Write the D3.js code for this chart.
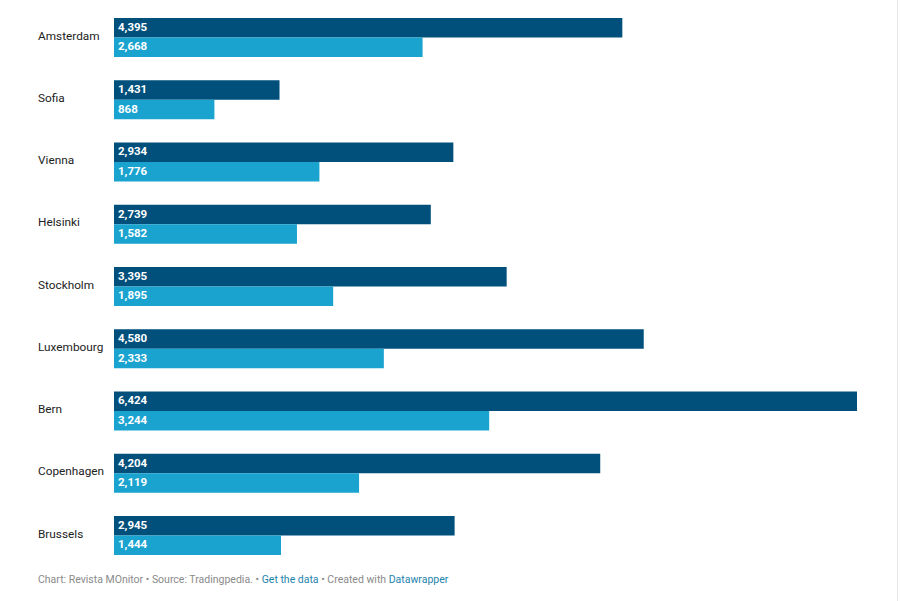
<!DOCTYPE html>
<html>
<head>
<meta charset="utf-8">
<script src="https://cdn.jsdelivr.net/npm/d3@7"></script>
<style>
  body { margin: 0; background: #fff; font-family: Roboto, "Noto Sans", sans-serif; }
  #container { width: 900px; height: 601px; }
</style>
</head>
<body>
<div id="container"></div>
<script>
// données
const cities = ["Amsterdam", "Sofia", "Vienna", "Helsinki", "Stockholm", "Luxembourg", "Bern", "Copenhagen", "Brussels"];
const serie1 = [4395, 1431, 2934, 2739, 3395, 4580, 6424, 4204, 2945];
const serie2 = [2668, 868, 1776, 1582, 1895, 2333, 3244, 2119, 1444];

const width = 900;
const height = 601;
const colors = ["#01507c", "#1ba3d0"];

const rows = cities.map((c, i) => ({ city: c, values: [serie1[i], serie2[i]] }));

const svg = d3.create("svg")
    .attr("width", width)
    .attr("height", height);

// petite bordure à droite comme sur la capture
svg.append("line")
    .attr("x1", 897.5).attr("x2", 897.5)
    .attr("y1", 0).attr("y2", height)
    .attr("stroke", "#e6e6e6");

const x = d3.scaleLinear()
    .domain([0, d3.max(serie1)])
    .range([114, 857]);

const y = d3.scaleBand()
    .domain(cities)
    .range([18, 555])
    .paddingInner(0.3735)
    .paddingOuter(0);

const sub = d3.scaleBand()
    .domain([0, 1])
    .range([0, y.bandwidth()]);

const row = svg.append("g")
    .selectAll("g")
    .data(rows)
    .join("g")
    .attr("transform", d => `translate(0,${y(d.city)})`);

row.append("text")
    .attr("x", 38)
    .attr("y", y.bandwidth() / 2 - 2)
    .attr("dy", "0.35em")
    .attr("font-size", 11.8)
    .attr("fill", "#222")
    .text(d => d.city);

const bar = row.selectAll("g.bar")
    .data(d => d.values)
    .join("g")
    .attr("class", "bar");

bar.append("rect")
    .attr("x", x(0))
    .attr("y", (d, i) => sub(i))
    .attr("width", d => x(d) - x(0))
    .attr("height", sub.bandwidth())
    .attr("fill", (d, i) => colors[i]);

bar.append("text")
    .attr("x", x(0) + 4)
    .attr("y", (d, i) => sub(i) + sub.bandwidth() / 2 - 1)
    .attr("dy", "0.35em")
    .attr("font-size", 11.5)
    .attr("font-weight", "bold")
    .attr("fill", "#fff")
    .text(d => d3.format(",")(d));

// pied de page
const foot = svg.append("text")
    .attr("x", 38)
    .attr("y", 583)
    .attr("font-size", 10.5)
    .attr("fill", "#8a8a8a");
foot.append("tspan").text("Chart: Revista MOnitor • Source: Tradingpedia. • ");
foot.append("tspan").attr("fill", "#1d84ab").text("Get the data");
foot.append("tspan").text(" • Created with ");
foot.append("tspan").attr("fill", "#1d84ab").text("Datawrapper");

d3.select("#container").node().append(svg.node());
</script>
</body>
</html>
